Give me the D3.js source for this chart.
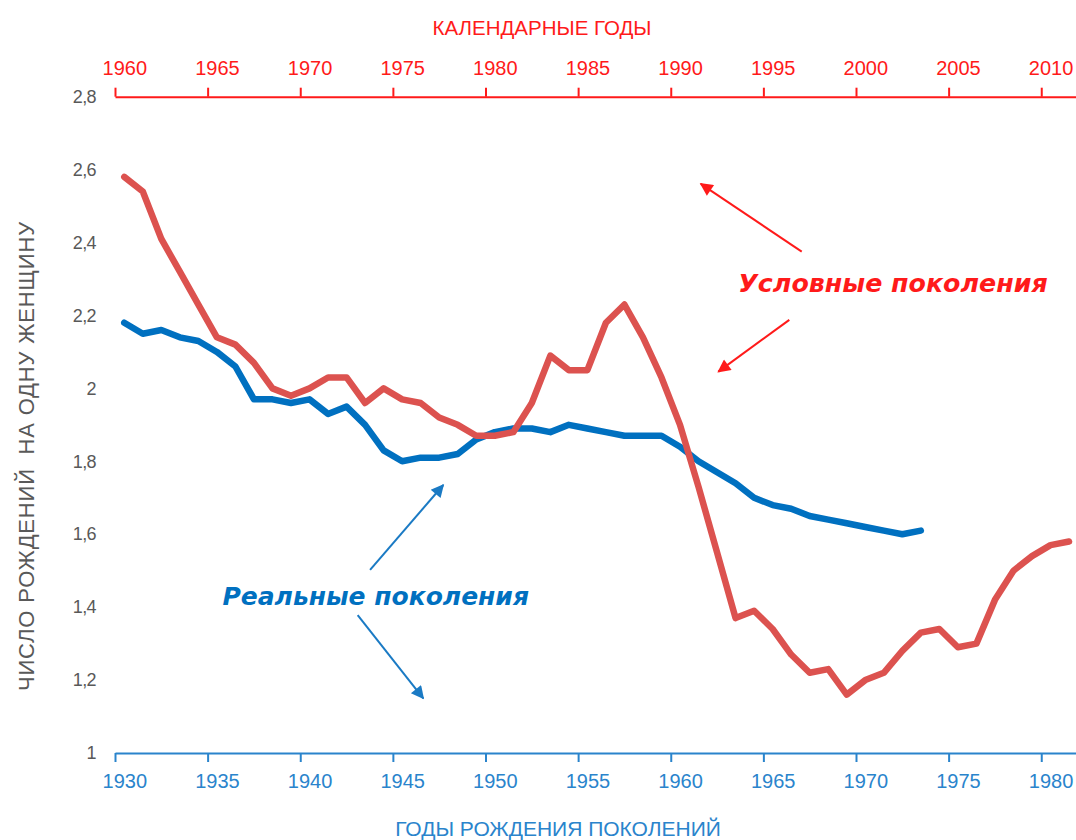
<!DOCTYPE html>
<html>
<head>
<meta charset="utf-8">
<script src="https://cdn.jsdelivr.net/npm/d3@7"></script>
<style>
  body { margin: 0; background: #fff; }
  svg { display: block; font-family: "Liberation Sans", Arial, sans-serif; }
</style>
</head>
<body>
<svg></svg>
<script>
// data
const birthYears = d3.range(1930, 1982); // 1930..1981
const cohortTFR = [ // реальные поколения, 1930..1973
  2.18, 2.15, 2.16, 2.14, 2.13, 2.10, 2.06, 1.97, 1.97, 1.96,
  1.97, 1.93, 1.95, 1.90, 1.83, 1.80, 1.81, 1.81, 1.82, 1.86,
  1.88, 1.89, 1.89, 1.88, 1.90, 1.89, 1.88, 1.87, 1.87, 1.87,
  1.84, 1.80, 1.77, 1.74, 1.70, 1.68, 1.67, 1.65, 1.64, 1.63,
  1.62, 1.61, 1.60, 1.61
];
const periodTFR = [ // условные поколения, 1960..2011
  2.58, 2.54, 2.41, 2.32, 2.23, 2.14, 2.12, 2.07, 2.00, 1.98,
  2.00, 2.03, 2.03, 1.96, 2.00, 1.97, 1.96, 1.92, 1.90, 1.87,
  1.87, 1.88, 1.96, 2.09, 2.05, 2.05, 2.18, 2.23, 2.14, 2.03,
  1.90, 1.73, 1.55, 1.37, 1.39, 1.34, 1.27, 1.22, 1.23, 1.16,
  1.20, 1.22, 1.28, 1.33, 1.34, 1.29, 1.30, 1.42, 1.50, 1.54,
  1.57, 1.58
];
const bottomTicks = [1930, 1935, 1940, 1945, 1950, 1955, 1960, 1965, 1970, 1975, 1980];
const topTicks = [1960, 1965, 1970, 1975, 1980, 1985, 1990, 1995, 2000, 2005, 2010];
const yTicks = [1, 1.2, 1.4, 1.6, 1.8, 2, 2.2, 2.4, 2.6, 2.8];
const lag = 30; // календарный год = год рождения + 30

//setting
const Width = 1076, Height = 840;
const RED = "#ff1a1a", REDLINE = "#dc524f", BLUE = "#0070c0", BLUEAX = "#2a84cc", GRAY = "#595959";

const svg = d3.select("svg").attr("width", Width).attr("height", Height);

const x = d3.scaleLinear().domain([1930, 1982]).range([115, 1078.3]);
const xTop = d3.scaleLinear().domain([1930 + lag, 1982 + lag]).range([115, 1078.3]);
const y = d3.scaleLinear().domain([1, 2.8]).range([753, 96.7]);
const half = (x(1931) - x(1930)) / 2;

// bottom axis
const gB = svg.append("g").attr("transform", `translate(0, ${y(1)})`)
  .call(d3.axisBottom(x).tickValues(bottomTicks).tickSize(9).tickSizeOuter(0).tickPadding(12).tickFormat(d3.format("d")));
gB.select(".domain").attr("stroke", BLUEAX).attr("stroke-width", 2);
gB.selectAll(".tick line").attr("stroke", BLUEAX).attr("stroke-width", 2);
gB.selectAll(".tick text").attr("x", half).attr("fill", BLUEAX).style("font-size", "20px");

// top axis
const gT = svg.append("g").attr("transform", `translate(0, ${y(2.8)})`)
  .call(d3.axisTop(xTop).tickValues(topTicks).tickSize(9).tickSizeOuter(0).tickPadding(13).tickFormat(d3.format("d")));
gT.select(".domain").attr("stroke", RED).attr("stroke-width", 2);
gT.selectAll(".tick line").attr("stroke", RED).attr("stroke-width", 2);
gT.selectAll(".tick text").attr("x", half).attr("fill", RED).style("font-size", "20px");

// left axis (labels only)
const gL = svg.append("g").attr("transform", `translate(${x(1930)}, 0)`)
  .call(d3.axisLeft(y).tickValues(yTicks).tickSize(0).tickPadding(19)
    .tickFormat(d => String(+d.toFixed(1)).replace(".", ",")));
gL.select(".domain").remove();
gL.selectAll(".tick text").attr("fill", GRAY).style("font-size", "18px").style("letter-spacing", "-0.6px");

// axis titles
svg.append("text").text("КАЛЕНДАРНЫЕ ГОДЫ")
  .attr("x", 542).attr("y", 35).attr("text-anchor", "middle")
  .attr("fill", RED).style("font-size", "20.5px");
svg.append("text").text("ГОДЫ РОЖДЕНИЯ ПОКОЛЕНИЙ")
  .attr("x", 558).attr("y", 836).attr("text-anchor", "middle")
  .attr("fill", BLUEAX).style("font-size", "21px");
svg.append("text").text("ЧИСЛО РОЖДЕНИЙ  НА ОДНУ ЖЕНЩИНУ")
  .attr("transform", "translate(34, 456) rotate(-90)").attr("text-anchor", "middle")
  .style("white-space", "pre").attr("xml:space", "preserve")
  .attr("fill", GRAY).style("font-size", "22px").style("letter-spacing", "0.8px");

// lines
const line = d3.line().x(d => x(d[0] + 0.5)).y(d => y(d[1]));
svg.append("path")
  .datum(cohortTFR.map((v, i) => [birthYears[i], v]))
  .attr("d", line).attr("fill", "none").attr("stroke", BLUE)
  .attr("stroke-width", 6.5).attr("stroke-linejoin", "round").attr("stroke-linecap", "round");
svg.append("path")
  .datum(periodTFR.map((v, i) => [birthYears[i], v]))
  .attr("d", line).attr("fill", "none").attr("stroke", REDLINE)
  .attr("stroke-width", 6.5).attr("stroke-linejoin", "round").attr("stroke-linecap", "round");

// annotations
const defs = svg.append("defs");
[["arrRed", RED], ["arrBlue", "#1a7ac4"]].forEach(([id, c]) => {
  defs.append("marker").attr("id", id).attr("viewBox", "0 0 10 10")
    .attr("refX", 9).attr("refY", 5).attr("markerWidth", 15).attr("markerHeight", 13)
    .attr("markerUnits", "userSpaceOnUse").attr("orient", "auto")
    .append("path").attr("d", "M0,0L10,5L0,10Z").attr("fill", c);
});
const arrows = [
  { from: [1967.07, 2.375], to: [1961.62, 2.561], m: "arrRed", c: RED },
  { from: [1966.40, 2.188], to: [1962.57, 2.046], m: "arrRed", c: RED },
  { from: [1943.77, 1.502], to: [1947.72, 1.735], m: "arrBlue", c: "#1a7ac4" },
  { from: [1943.10, 1.378], to: [1946.64, 1.150], m: "arrBlue", c: "#1a7ac4" }
];
svg.append("g").selectAll("line").data(arrows).join("line")
  .attr("x1", d => x(d.from[0])).attr("y1", d => y(d.from[1]))
  .attr("x2", d => x(d.to[0])).attr("y2", d => y(d.to[1]))
  .attr("stroke", d => d.c).attr("stroke-width", 2)
  .attr("marker-end", d => `url(#${d.m})`);

svg.append("text").text("Условные поколения")
  .attr("x", x(1963.65)).attr("y", y(2.265))
  .attr("fill", RED).style("font-family", "'DejaVu Sans', sans-serif")
  .style("font-weight", "bold").style("font-style", "italic").style("font-size", "25.3px");
svg.append("text").text("Реальные поколения")
  .attr("x", x(1935.8)).attr("y", y(1.406))
  .attr("fill", BLUE).style("font-family", "'DejaVu Sans', sans-serif")
  .style("font-weight", "bold").style("font-style", "italic").style("font-size", "25px");
</script>
</body>
</html>
